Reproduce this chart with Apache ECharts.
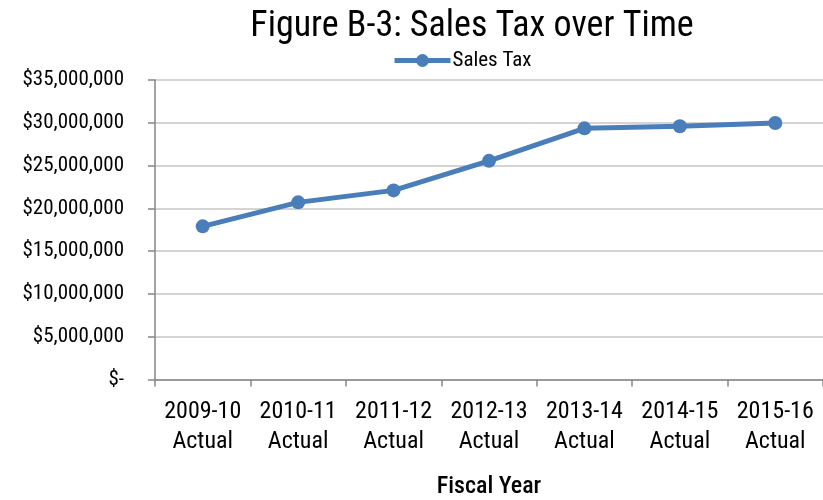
<!DOCTYPE html>
<html><head><meta charset="utf-8">
<script src="https://cdn.jsdelivr.net/npm/echarts@6/dist/echarts.min.js"></script>
<style>html,body{margin:0;padding:0;background:#fff}#c{width:823px;height:500px}</style>
</head><body><div id="c"></div>
<script>
const categories = ["2009-10\nActual","2010-11\nActual","2011-12\nActual","2012-13\nActual","2013-14\nActual","2014-15\nActual","2015-16\nActual"];
const salesTax = [17900000, 20700000, 22100000, 25550000, 29350000, 29600000, 29980000];
const yTicks = {min: 0, max: 35000000, interval: 5000000};
const FONT = "'Liberation Sans Narrow', 'Arial Narrow', 'Roboto Condensed', sans-serif";
function fmt(v){ if (v === 0) return "$-"; return "$" + v.toLocaleString("en-US"); }
const chart = echarts.init(document.getElementById('c'));
chart.setOption({
  animation: false,
  title: { text: "Figure B-3: Sales Tax over Time", left: 467, textAlign: 'center', top: 4,
    textStyle: { fontFamily: FONT, fontSize: 36, fontWeight: 'normal', color: '#000' } },
  legend: { data: ["Sales Tax"], left: 387, top: 45, itemWidth: 56, itemHeight: 16, itemGap: 0,
    lineStyle: { width: 5, color: '#4a7ebb' },
    textStyle: { fontFamily: FONT, fontSize: 21, color: '#000', padding: [0,0,0,-3] } },
  grid: { left: 155, right: 0, top: 80, bottom: 120.5, containLabel: false, outerBoundsMode: 'none' },
  xAxis: { type: 'category', data: categories, boundaryGap: true,
    name: "Fiscal Year", nameLocation: 'middle', nameGap: 95,
    nameTextStyle: { fontFamily: FONT, fontSize: 24, color: '#000', fontWeight: 500 },
    axisLine: { lineStyle: { color: '#868686', width: 1.5 } },
    axisTick: { show: true, length: 7, alignWithLabel: false, lineStyle: { color: '#868686', width: 1.5 } },
    axisLabel: { fontFamily: FONT, fontSize: 24, color: '#000', lineHeight: 30, margin: 17, interval: 0 } },
  yAxis: { type: 'value', min: yTicks.min, max: yTicks.max, interval: yTicks.interval,
    axisLine: { show: true, lineStyle: { color: '#868686', width: 1.5 } },
    axisTick: { show: true, inside: false, length: 7, lineStyle: { color: '#868686', width: 1.5 } },
    splitLine: { lineStyle: { color: '#c6c6c6', width: 1.5 } },
    axisLabel: { fontFamily: FONT, fontSize: 21, color: '#000', margin: 31, formatter: fmt } },
  series: [{ name: "Sales Tax", type: 'line', data: salesTax, symbol: 'circle', symbolSize: 14,
    lineStyle: { color: '#4a7ebb', width: 5 }, itemStyle: { color: '#4a7ebb' } }]
});
</script></body></html>
